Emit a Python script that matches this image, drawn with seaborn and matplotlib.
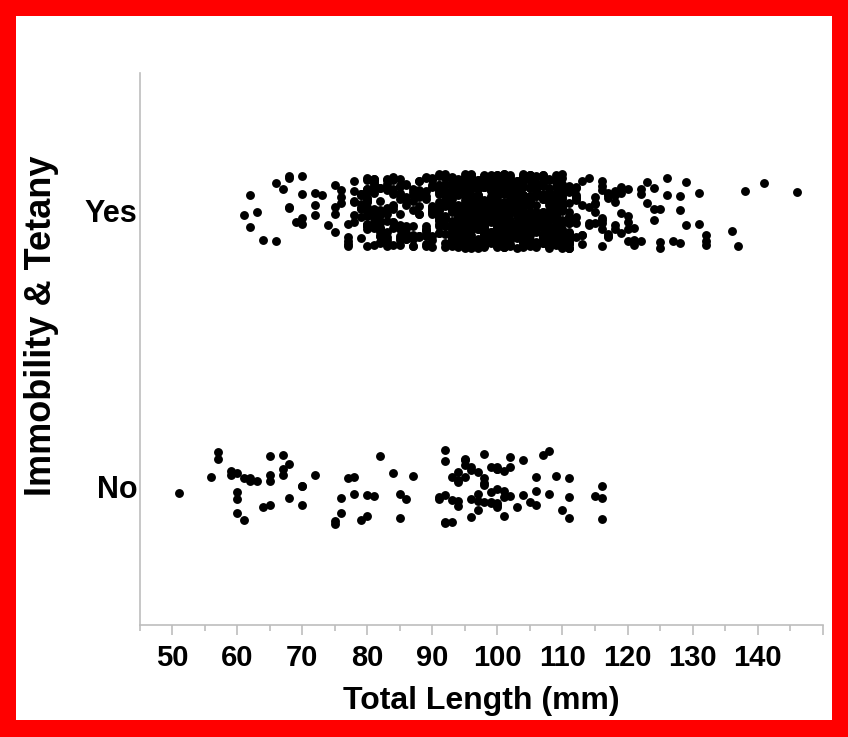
import numpy as np
import pandas as pd
import matplotlib
matplotlib.use("Agg")
import matplotlib.pyplot as plt
from matplotlib.patches import Rectangle
from matplotlib.ticker import MultipleLocator
import seaborn as sns

# ---- data (Total Length in mm, count of fish at that length)
categories = ["Yes", "No"]

yes_values = [61, 62, 63, 64, 66, 67, 68, 69, 70, 72, 73, 74, 75, 76, 77, 78, 79, 80,
              81, 82, 83, 84, 85, 86, 87, 88, 89, 90, 91, 92, 93, 94, 95, 96, 97, 98,
              99, 100, 101, 102, 103, 104, 105, 106, 107, 108, 109, 110, 111, 112, 113,
              114, 115, 116, 117, 118, 119, 120, 121, 122, 123, 124, 125, 126, 127, 128,
              129, 131, 132, 136, 137, 138, 141, 146]
yes_counts = [1, 2, 1, 1, 2, 1, 4, 1, 4, 3, 1, 1, 4, 3, 5, 6, 10, 20,
              18, 15, 15, 13, 13, 12, 11, 11, 12, 16, 20, 24, 28, 32, 35, 38, 40, 40,
              40, 40, 40, 38, 36, 36, 34, 34, 33, 32, 30, 30, 26, 9, 5,
              4, 5, 8, 7, 5, 4, 5, 3, 3, 2, 3, 3, 2, 1, 3,
              2, 2, 3, 1, 1, 1, 1, 1]

no_values = [51, 56, 57, 59, 60, 61, 62, 63, 64, 65, 67, 68, 70, 72, 75, 76, 77, 78,
             79, 80, 81, 82, 84, 85, 86, 87, 91, 92, 93, 94, 95, 96, 97, 98, 99, 100,
             101, 102, 103, 104, 105, 106, 107, 108, 109, 110, 111, 115, 116]
no_counts = [1, 1, 2, 2, 4, 2, 2, 1, 1, 4, 3, 2, 3, 1, 2, 2, 1, 2,
             1, 2, 1, 1, 1, 2, 1, 1, 2, 5, 3, 5, 4, 4, 4, 5, 4, 7,
             4, 3, 1, 2, 1, 3, 1, 2, 1, 1, 3, 1, 3]

x_ticks = [50, 60, 70, 80, 90, 100, 110, 120, 130, 140, 150]
x_tick_labels = ["50", "60", "70", "80", "90", "100", "110", "120", "130", "140", ""]

lengths = np.concatenate([np.repeat(yes_values, yes_counts), np.repeat(no_values, no_counts)])
groups = ["Yes"] * int(np.sum(yes_counts)) + ["No"] * int(np.sum(no_counts))
df = pd.DataFrame({"Total Length (mm)": lengths, "Immobility & Tetany": groups})

# ---- style
sns.set_style("white")
plt.rcParams["font.family"] = ["Liberation Sans", "DejaVu Sans"]
plt.rcParams["font.weight"] = "bold"
plt.rcParams["text.color"] = "black"
plt.rcParams["axes.labelcolor"] = "black"
plt.rcParams["xtick.color"] = "black"
plt.rcParams["ytick.color"] = "black"

W, H = 848, 737
fig = plt.figure(figsize=(W / 100, H / 100), dpi=100)
fig.patch.set_facecolor("#ff0000")
fig.patches.append(Rectangle((16 / W, 17 / H), (W - 32) / W, (H - 33) / H,
                             transform=fig.transFigure, facecolor="white",
                             edgecolor="none", zorder=-1))

ax = fig.add_axes([139.5 / W, (H - 625) / H, (822.8 - 139.5) / W, 552 / H])
ax.set_facecolor("none")

np.random.seed(3)
sns.stripplot(data=df, x="Total Length (mm)", y="Immobility & Tetany", order=categories,
              jitter=0.135, size=6.4, color="black", linewidth=0, ax=ax)

ax.set_xlim(45, 150)
ax.set_ylim(1.5, -0.5)

for s in ["top", "right"]:
    ax.spines[s].set_visible(False)
for s in ["left", "bottom"]:
    ax.spines[s].set_color("#bdbdbd")
    ax.spines[s].set_linewidth(1.2)

ax.set_xticks(x_ticks)
ax.set_xticklabels(x_tick_labels)
ax.xaxis.set_minor_locator(MultipleLocator(5))
ax.tick_params(axis="x", which="both", bottom=True, color="#bdbdbd", labelcolor="black")
ax.tick_params(axis="x", which="major", length=7, width=1.2, labelsize=21, pad=6.5)
ax.tick_params(axis="x", which="minor", length=4, width=1.2)
ax.tick_params(axis="y", left=False, length=0, labelsize=22, pad=1.5, labelcolor="black")
for lab in ax.get_xticklabels() + ax.get_yticklabels():
    lab.set_fontweight("bold")

ax.set_xlabel("Total Length (mm)", fontsize=23, fontweight="bold", labelpad=10, color="black")
ax.set_ylabel("Immobility & Tetany", fontsize=26, fontweight="bold", color="black")
ax.yaxis.set_label_coords(-0.118, 0.543)

fig.savefig("out.png", dpi=100, facecolor=fig.get_facecolor())
